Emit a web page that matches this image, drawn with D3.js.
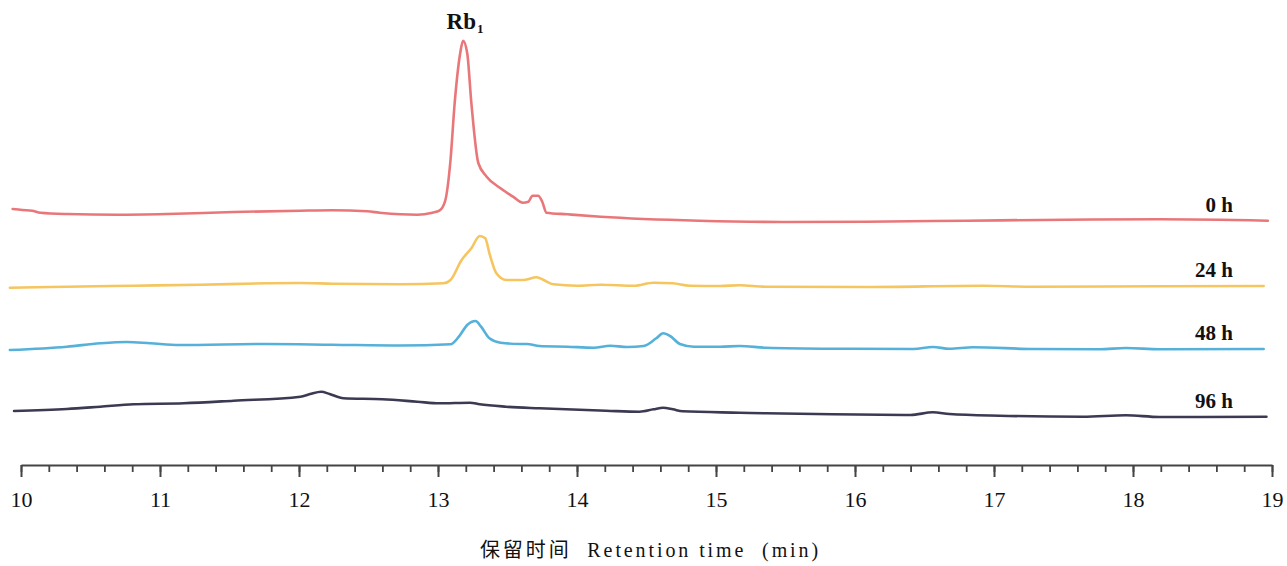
<!DOCTYPE html>
<html>
<head>
<meta charset="utf-8">
<script src="https://cdn.jsdelivr.net/npm/d3@7/dist/d3.min.js"></script>
<style>
  html, body { margin: 0; padding: 0; background: #ffffff; }
  svg { display: block; }
</style>
</head>
<body>
<svg id="chart" width="1287" height="566"></svg>
<script>
// ---- Data (retention time in min, detector signal in offset units) ----
const seriesNames = ["0 h", "24 h", "48 h", "96 h"];
const seriesColors = ["#e9777a", "#f5c560", "#55b1d9", "#3b3a52"];

const time0h  = [9.94,10.01,10.08,10.14,10.33,10.69,11.05,11.53,12.01,12.24,12.49,12.58,12.73,12.85,12.96,13.01,13.05,13.09,13.12,13.16,13.18,13.21,13.24,13.29,13.35,13.45,13.54,13.61,13.65,13.68,13.72,13.75,13.78,13.93,14.17,14.88,15.48,16.08,16.80,17.52,18.19,18.97];
const value0h = [256,255,254.3,252.3,251,250.3,251,253,254.3,254.7,253.7,252.3,250.7,250.3,252.3,254.3,263.3,305,362,412,424.3,412,362,302,288.3,276.7,268.3,262.3,263.3,269.3,269.3,263.3,252.3,250.7,248.3,244.3,243,243.3,244.3,245.3,245.7,244.3];

const time24h  = [9.92,10.33,10.81,11.29,11.77,12.01,12.24,12.73,13.04,13.09,13.17,13.24,13.30,13.34,13.37,13.42,13.49,13.61,13.71,13.76,13.83,14.00,14.17,14.41,14.55,14.69,14.81,15.03,15.17,15.36,16.08,16.92,17.28,18.19,18.94];
const value24h = [177.3,178.3,179.3,180.3,181.7,182,181.3,180.7,181.7,185,205,216.7,229,226.7,211.7,191.7,185,185,187.7,185,180.7,179.3,180.3,179.3,182.3,181.7,179.3,179,179.7,178.3,178,179.3,178.3,178.7,179];

const time48h  = [9.92,10.33,10.57,10.76,10.93,11.14,11.77,12.24,12.73,13.09,13.15,13.21,13.27,13.31,13.37,13.45,13.59,13.64,13.73,13.93,14.12,14.24,14.36,14.48,14.57,14.62,14.67,14.74,14.84,15.03,15.17,15.36,15.84,16.42,16.56,16.68,16.85,17.28,17.76,17.95,18.19,18.94];
const value48h = [115,118.3,121.7,123,121.7,120,121,120.3,119.5,120.7,128.3,140,144,138.3,126.7,122.3,121,121,119,118.3,117.3,119.3,118,119,126.7,131.7,129,121,118.3,118.3,119,117.3,116.3,116,118,116.3,117.7,116,115.7,117,115.7,116];

const time96h  = [9.95,10.33,10.57,10.81,11.17,11.53,12.01,12.08,12.16,12.22,12.32,12.60,12.85,13.01,13.23,13.30,13.49,13.73,14.21,14.45,14.55,14.62,14.69,14.76,15.17,15.36,15.84,16.40,16.56,16.68,17.04,17.64,17.95,18.19,18.96];
const value96h = [54,56,58.3,60.7,61.7,64.3,68.3,71,73.3,71,66.7,65.7,63.3,61.7,62.3,60.7,58.3,56.7,54.3,53.3,55.7,57.3,55.7,53.7,52.3,51.7,50.7,50,52.7,51,49.3,48.3,49.7,48,48.3];

const majorTicks = [10, 11, 12, 13, 14, 15, 16, 17, 18, 19];
const minorTicks = d3.range(0, 46).map(i => +(10 + i * 0.2).toFixed(1));
const axisTitle = "保留时间  Retention time  (min)";
const peakLabel = "Rb";
const peakSub = "1";
const peakTime = 13.18;
const peakValue = 424.3;

// ---- Build ----
const svg = d3.select("#chart");
const x = d3.scaleLinear().domain([10, 19]).range([21, 1272]);
const y = d3.scaleLinear().domain([0, 450]).range([465, 15]);

const series = [
  {name: seriesNames[0], color: seriesColors[0], pts: time0h.map((t, i) => [t, value0h[i]])},
  {name: seriesNames[1], color: seriesColors[1], pts: time24h.map((t, i) => [t, value24h[i]])},
  {name: seriesNames[2], color: seriesColors[2], pts: time48h.map((t, i) => [t, value48h[i]])},
  {name: seriesNames[3], color: seriesColors[3], pts: time96h.map((t, i) => [t, value96h[i]])}
];

const line = d3.line()
  .x(d => x(d[0]))
  .y(d => y(d[1]))
  .curve(d3.curveMonotoneX);

svg.append("g").selectAll("path")
  .data(series)
  .join("path")
  .attr("d", d => line(d.pts))
  .attr("fill", "none")
  .attr("stroke", d => d.color)
  .attr("stroke-width", 2.6)
  .attr("stroke-linejoin", "round")
  .attr("stroke-linecap", "round");

// series labels, right-aligned, above each trace end
svg.append("g").selectAll("text")
  .data(series)
  .join("text")
  .attr("x", 1233)
  .attr("y", d => y(d.pts[d.pts.length - 1][1]) - 9)
  .attr("text-anchor", "end")
  .attr("font-family", "'Liberation Serif', 'Times New Roman', serif")
  .attr("font-weight", "bold")
  .attr("font-size", 21)
  .attr("fill", "#111")
  .text(d => d.name);

// peak label
const pl = svg.append("text")
  .attr("x", x(peakTime) + 2)
  .attr("y", y(peakValue) - 12)
  .attr("text-anchor", "middle")
  .attr("font-family", "'Liberation Serif', 'Times New Roman', serif")
  .attr("font-weight", "bold")
  .attr("font-size", 23)
  .attr("fill", "#111");
pl.append("tspan").text(peakLabel);
pl.append("tspan").attr("font-size", 13).attr("dy", 4).attr("dx", 1).text(peakSub);

// axes
const gAxis = svg.append("g").attr("transform", "translate(0,465)");
gAxis.append("g")
  .call(d3.axisBottom(x).tickValues(minorTicks).tickSize(7).tickSizeOuter(0).tickFormat(""))
  .call(g => g.select(".domain").remove())
  .call(g => g.selectAll("line").attr("stroke", "#444").attr("stroke-width", 1.8));
gAxis.append("g")
  .call(d3.axisBottom(x).tickValues(majorTicks).tickSize(12).tickSizeOuter(0).tickPadding(14).tickFormat(d3.format("d")))
  .call(g => g.select(".domain").attr("stroke", "#444").attr("stroke-width", 2))
  .call(g => g.selectAll("line").attr("stroke", "#444").attr("stroke-width", 2))
  .call(g => g.selectAll("text")
    .attr("font-family", "'Liberation Serif', 'Times New Roman', serif")
    .attr("font-size", 22)
    .attr("fill", "#111"));

// axis title
svg.append("text")
  .attr("x", (x(10) + x(19)) / 2 + 4)
  .attr("y", 557)
  .attr("text-anchor", "middle")
  .attr("font-family", "'Liberation Serif', 'Noto Sans CJK SC', serif")
  .attr("font-size", 20)
  .attr("letter-spacing", 2.9)
  .style("white-space", "pre")
  .attr("fill", "#111")
  .text(axisTitle);
</script>
</body>
</html>
